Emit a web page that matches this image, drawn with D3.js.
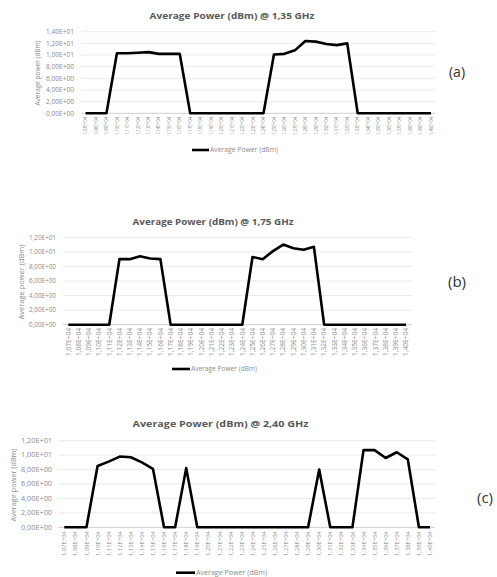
<!DOCTYPE html>
<html>
<head>
<meta charset="utf-8">
<script src="https://cdn.jsdelivr.net/npm/d3@7"></script>
<style>
  body { margin: 0; background: #fff; }
  svg { display: block; }
  text { font-family: "Open Sans", "Liberation Sans", sans-serif; }
</style>
</head>
<body>
<svg width="497" height="577"></svg>
<script>
// categories (same on all three charts)
const categories = ['1,07E+04','1,08E+04','1,09E+04','1,10E+04','1,11E+04','1,12E+04','1,13E+04','1,14E+04',
  '1,15E+04','1,16E+04','1,17E+04','1,18E+04','1,19E+04','1,20E+04','1,21E+04','1,22E+04','1,23E+04',
  '1,24E+04','1,25E+04','1,26E+04','1,27E+04','1,28E+04','1,29E+04','1,30E+04','1,31E+04','1,32E+04',
  '1,33E+04','1,34E+04','1,35E+04','1,36E+04','1,37E+04','1,38E+04','1,39E+04','1,40E+04']

// @ 1,35 GHz
const valuesA = [0,0,0,10.3,10.3,10.4,10.5,10.2,10.2,10.2,0,0,0,0,0,0,0,
  0,10.1,10.2,10.8,12.4,12.3,11.9,11.7,12.0,0,0,0,0,0,0,0,0]
// @ 1,75 GHz
const valuesB = [0,0,0,0,0,9.0,9.0,9.4,9.1,9.0,0,0,0,0,0,0,0,
  0,9.3,9.0,10.1,11.0,10.5,10.3,10.7,0,0,0,0,0,0,0,0,0]
// @ 2,40 GHz
const valuesC = [0,0,0,8.5,9.1,9.8,9.7,9.0,8.1,0,0,8.2,0,0,0,0,0,
  0,0,0,0,0,0,8.0,0,0,0,10.7,10.7,9.6,10.4,9.4,0,0]

const yTicksA = [0,2,4,6,8,10,12,14]
const yTicksBC = [0,2,4,6,8,10,12]

const titles = ['Average Power (dBm) @ 1,35 GHz', 'Average Power (dBm) @ 1,75 GHz', 'Average Power (dBm) @ 2,40 GHz']
const tags = ['(a)', '(b)', '(c)']
const seriesName = 'Average Power (dBm)'
const yTitle = 'Average power (dBm)'

const sciFormat = v => {
  if (v === 0) return '0,00E+00'
  const e = Math.floor(Math.log10(v))
  const m = v / Math.pow(10, e)
  return m.toFixed(2).replace('.', ',') + 'E' + (e < 0 ? '-' : '+') + String(Math.abs(e)).padStart(2, '0')
}

const svg = d3.select('svg')

const panels = [
  {values: valuesA, ticks: yTicksA, title: titles[0], tag: tags[0],
   xr: [85.5, 431], yr: [113.3, 31.7], grid: [81, 435], tickX: 74, tickW: 28, tickFs: 6.5,
   yTitleX: 38, yTitleY: 73, yTitleW: 65, titleX: 232, titleY: 16, titleW: 165,
   xLabY: 117, xLabW: 18, xLabFs: 4.8, legY: 150, legX: [192, 209], legW: 68,
   tagX: 457, tagY: 72, tagFs: 14},
  {values: valuesB, ticks: yTicksBC, title: titles[1], tag: tags[1],
   xr: [68.3, 406], yr: [324.7, 237.3], grid: [63, 412], tickX: 56, tickW: 27, tickFs: 6.5,
   yTitleX: 22, yTitleY: 282, yTitleW: 75, titleX: 213, titleY: 222, titleW: 161,
   xLabY: 328, xLabW: 28, xLabFs: 6.5, legY: 369, legX: [172, 190], legW: 66,
   tagX: 457, tagY: 282, tagFs: 15},
  {values: valuesC, ticks: yTicksBC, title: titles[2], tag: tags[2],
   xr: [64.3, 430], yr: [527.3, 440.7], grid: [58, 435], tickX: 52, tickW: 31, tickFs: 6.5,
   yTitleX: 14, yTitleY: 485, yTitleW: 73, titleX: 220.5, titleY: 424, titleW: 176,
   xLabY: 531, xLabW: 25, xLabFs: 6, legY: 572.7, legX: [176, 195], legW: 71,
   tagX: 485, tagY: 498, tagFs: 15}
]

const render = p => {
  const xScale = d3.scalePoint().domain(categories).range(p.xr)
  const yScale = d3.scaleLinear().domain([0, d3.max(p.ticks)]).range(p.yr)
  const g = svg.append('g')

  // gridlines
  g.selectAll('line.grid')
    .data(p.ticks)
    .enter()
    .append('line')
    .attr('x1', p.grid[0])
    .attr('x2', p.grid[1])
    .attr('y1', d => yScale(d))
    .attr('y2', d => yScale(d))
    .attr('stroke', d => d === 0 ? '#d0d0d0' : '#ebebeb')
    .attr('stroke-width', 1)

  // y tick labels
  g.selectAll('text.ytick')
    .data(p.ticks)
    .enter()
    .append('text')
    .attr('x', p.tickX)
    .attr('y', d => yScale(d))
    .attr('dy', '0.35em')
    .attr('text-anchor', 'end')
    .attr('font-size', p.tickFs)
    .attr('fill', '#8c8c8c')
    .attr('textLength', p.tickW)
    .attr('lengthAdjust', 'spacingAndGlyphs')
    .text(sciFormat)

  // x tick labels, vertical
  g.selectAll('text.xtick')
    .data(categories)
    .enter()
    .append('text')
    .attr('transform', d => `translate(${xScale(d)},${p.xLabY}) rotate(-90)`)
    .attr('dy', '0.35em')
    .attr('text-anchor', 'end')
    .attr('font-size', p.xLabFs)
    .attr('fill', '#8c8c8c')
    .attr('textLength', p.xLabW)
    .attr('lengthAdjust', 'spacingAndGlyphs')
    .text(d => d)

  // y axis title
  g.append('text')
    .attr('transform', `translate(${p.yTitleX},${p.yTitleY}) rotate(-90)`)
    .attr('dy', '0.35em')
    .attr('text-anchor', 'middle')
    .attr('font-size', 7)
    .attr('fill', '#8c8c8c')
    .attr('textLength', p.yTitleW)
    .attr('lengthAdjust', 'spacingAndGlyphs')
    .text(yTitle)

  // title
  g.append('text')
    .attr('x', p.titleX)
    .attr('y', p.titleY)
    .attr('dy', '0.35em')
    .attr('text-anchor', 'middle')
    .attr('font-size', 9.5)
    .attr('font-weight', 'bold')
    .attr('fill', '#595959')
    .attr('textLength', p.titleW)
    .attr('lengthAdjust', 'spacingAndGlyphs')
    .text(p.title)

  // series line
  const line = d3.line()
    .x((d, i) => xScale(categories[i]))
    .y(d => yScale(d))
  g.append('path')
    .datum(p.values)
    .attr('d', line)
    .attr('fill', 'none')
    .attr('stroke', '#000')
    .attr('stroke-width', 2.6)
    .attr('stroke-linejoin', 'round')

  // legend
  g.append('line')
    .attr('x1', p.legX[0]).attr('x2', p.legX[1])
    .attr('y1', p.legY).attr('y2', p.legY)
    .attr('stroke', '#000').attr('stroke-width', 2.6)
  g.append('text')
    .attr('x', p.legX[1] + 1)
    .attr('y', p.legY)
    .attr('dy', '0.35em')
    .attr('font-size', 6.5)
    .attr('fill', '#8c8c8c')
    .attr('textLength', p.legW)
    .attr('lengthAdjust', 'spacingAndGlyphs')
    .text(seriesName)

  // panel tag
  g.append('text')
    .attr('x', p.tagX)
    .attr('y', p.tagY)
    .attr('dy', '0.35em')
    .attr('text-anchor', 'middle')
    .attr('font-size', p.tagFs)
    .attr('fill', '#333')
    .text(p.tag)
}

panels.forEach(render)
</script>
</body>
</html>
